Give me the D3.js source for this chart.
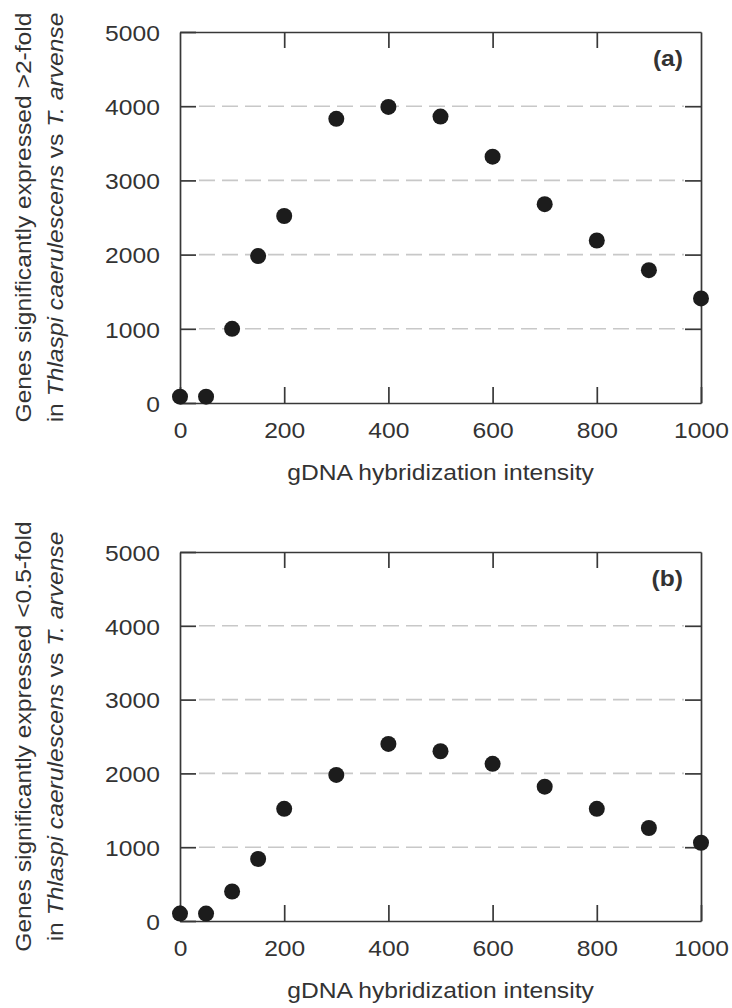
<!DOCTYPE html>
<html>
<head>
<meta charset="utf-8">
<script src="https://cdn.jsdelivr.net/npm/d3@7"></script>
<style>
  body { margin: 0; background: #fff; }
  svg { display: block; }
  .axis path, .axis line { stroke: #383838; stroke-width: 1.7px; }
  .axis text { font-family: "Liberation Sans", Arial, sans-serif; font-size: 22px; fill: #333; }
  .title { font-family: "Liberation Sans", Arial, sans-serif; font-size: 22px; fill: #333; }
</style>
</head>
<body>
<svg width="732" height="1008"></svg>
<script>
// values
var intensity = [0, 50, 100, 150, 200, 300, 400, 500, 600, 700, 800, 900, 1000];
var genesUp   = [85, 85, 1000, 1980, 2520, 3830, 3990, 3860, 3320, 2680, 2190, 1790, 1410];
var genesDown = [100, 100, 400, 840, 1520, 1980, 2400, 2300, 2130, 1820, 1520, 1260, 1060];
var xTickValues = [0, 200, 400, 600, 800, 1000];
var yTickValues = [0, 1000, 2000, 3000, 4000, 5000];
var gridValues = [1000, 2000, 3000, 4000];

var svg = d3.select("svg"),
    left = 180, right = 701,
    stretch = "scale(1.12,1)";   // source font runs a bit wider than Arial

var x = d3.scaleLinear().domain([0, 1000]).range([left, right]);
var fmt = d3.format("d");

function panel(values, top, bottom, letter, line1) {
  var y = d3.scaleLinear().domain([0, 5000]).range([bottom, top]);
  var g = svg.append("g");

  // dashed grid lines
  g.selectAll(".grid")
    .data(gridValues)
    .enter().append("line")
      .attr("x1", x(0) + 19)
      .attr("x2", x(1000) - 17)
      .attr("y1", function(d) { return y(d); })
      .attr("y2", function(d) { return y(d); })
      .style("stroke", "#c8c8c8")
      .style("stroke-width", "1.6px")
      .style("stroke-dasharray", "16,7");

  // axes with inward ticks on all four sides
  g.append("g")
      .attr("class", "axis")
      .attr("transform", "translate(0," + bottom + ")")
      .call(d3.axisBottom(x).tickValues(xTickValues).tickFormat(fmt).tickSizeInner(-16).tickSizeOuter(0).tickPadding(19))
      .selectAll("text").attr("transform", stretch);

  g.append("g")
      .attr("class", "axis")
      .attr("transform", "translate(0," + top + ")")
      .call(d3.axisTop(x).tickValues([200, 400, 600, 800]).tickSizeInner(-16).tickSizeOuter(0).tickFormat(""));

  g.append("g")
      .attr("class", "axis")
      .attr("transform", "translate(" + left + ",0)")
      .call(d3.axisLeft(y).tickValues(yTickValues).tickFormat(fmt).tickSizeInner(-16).tickSizeOuter(0).tickPadding(18))
      .selectAll("text")
        .attr("dy", "0.38em")
        .attr("transform", stretch);

  g.append("g")
      .attr("class", "axis")
      .attr("transform", "translate(" + right + ",0)")
      .call(d3.axisRight(y).tickValues(gridValues).tickSizeInner(-16).tickSizeOuter(0).tickFormat(""));

  g.selectAll(".axis .domain").style("fill", "none");

  // points
  g.selectAll("circle")
    .data(values)
    .enter().append("circle")
      .attr("cx", function(d, i) { return x(intensity[i]); })
      .attr("cy", function(d) { return y(d); })
      .attr("r", 8)
      .style("fill", "#1c1c1c");

  // panel letter
  g.append("text")
      .attr("class", "title")
      .attr("text-anchor", "end")
      .attr("transform", "translate(683," + (top + 34) + ") " + stretch)
      .style("font-weight", "bold")
      .text(letter);

  // x title
  g.append("text")
      .attr("class", "title")
      .attr("text-anchor", "middle")
      .attr("transform", "translate(" + (left + right) / 2 + "," + (bottom + 77) + ") " + stretch)
      .text("gDNA hybridization intensity");

  // y title, two lines
  var cy = (top + bottom) / 2;
  g.append("text")
      .attr("class", "title")
      .attr("text-anchor", "middle")
      .attr("transform", "translate(31," + cy + ") rotate(-90) " + stretch)
      .text(line1);

  var t2 = g.append("text")
      .attr("class", "title")
      .attr("text-anchor", "middle")
      .attr("transform", "translate(63," + cy + ") rotate(-90) " + stretch);
  t2.append("tspan").text("in ");
  t2.append("tspan").style("font-style", "italic").text("Thlaspi caerulescens");
  t2.append("tspan").text(" vs ");
  t2.append("tspan").style("font-style", "italic").text("T. arvense");
}

panel(genesUp, 32, 403, "(a)", "Genes significantly expressed >2-fold");
panel(genesDown, 552, 921, "(b)", "Genes significantly expressed <0.5-fold");
</script>
</body>
</html>
